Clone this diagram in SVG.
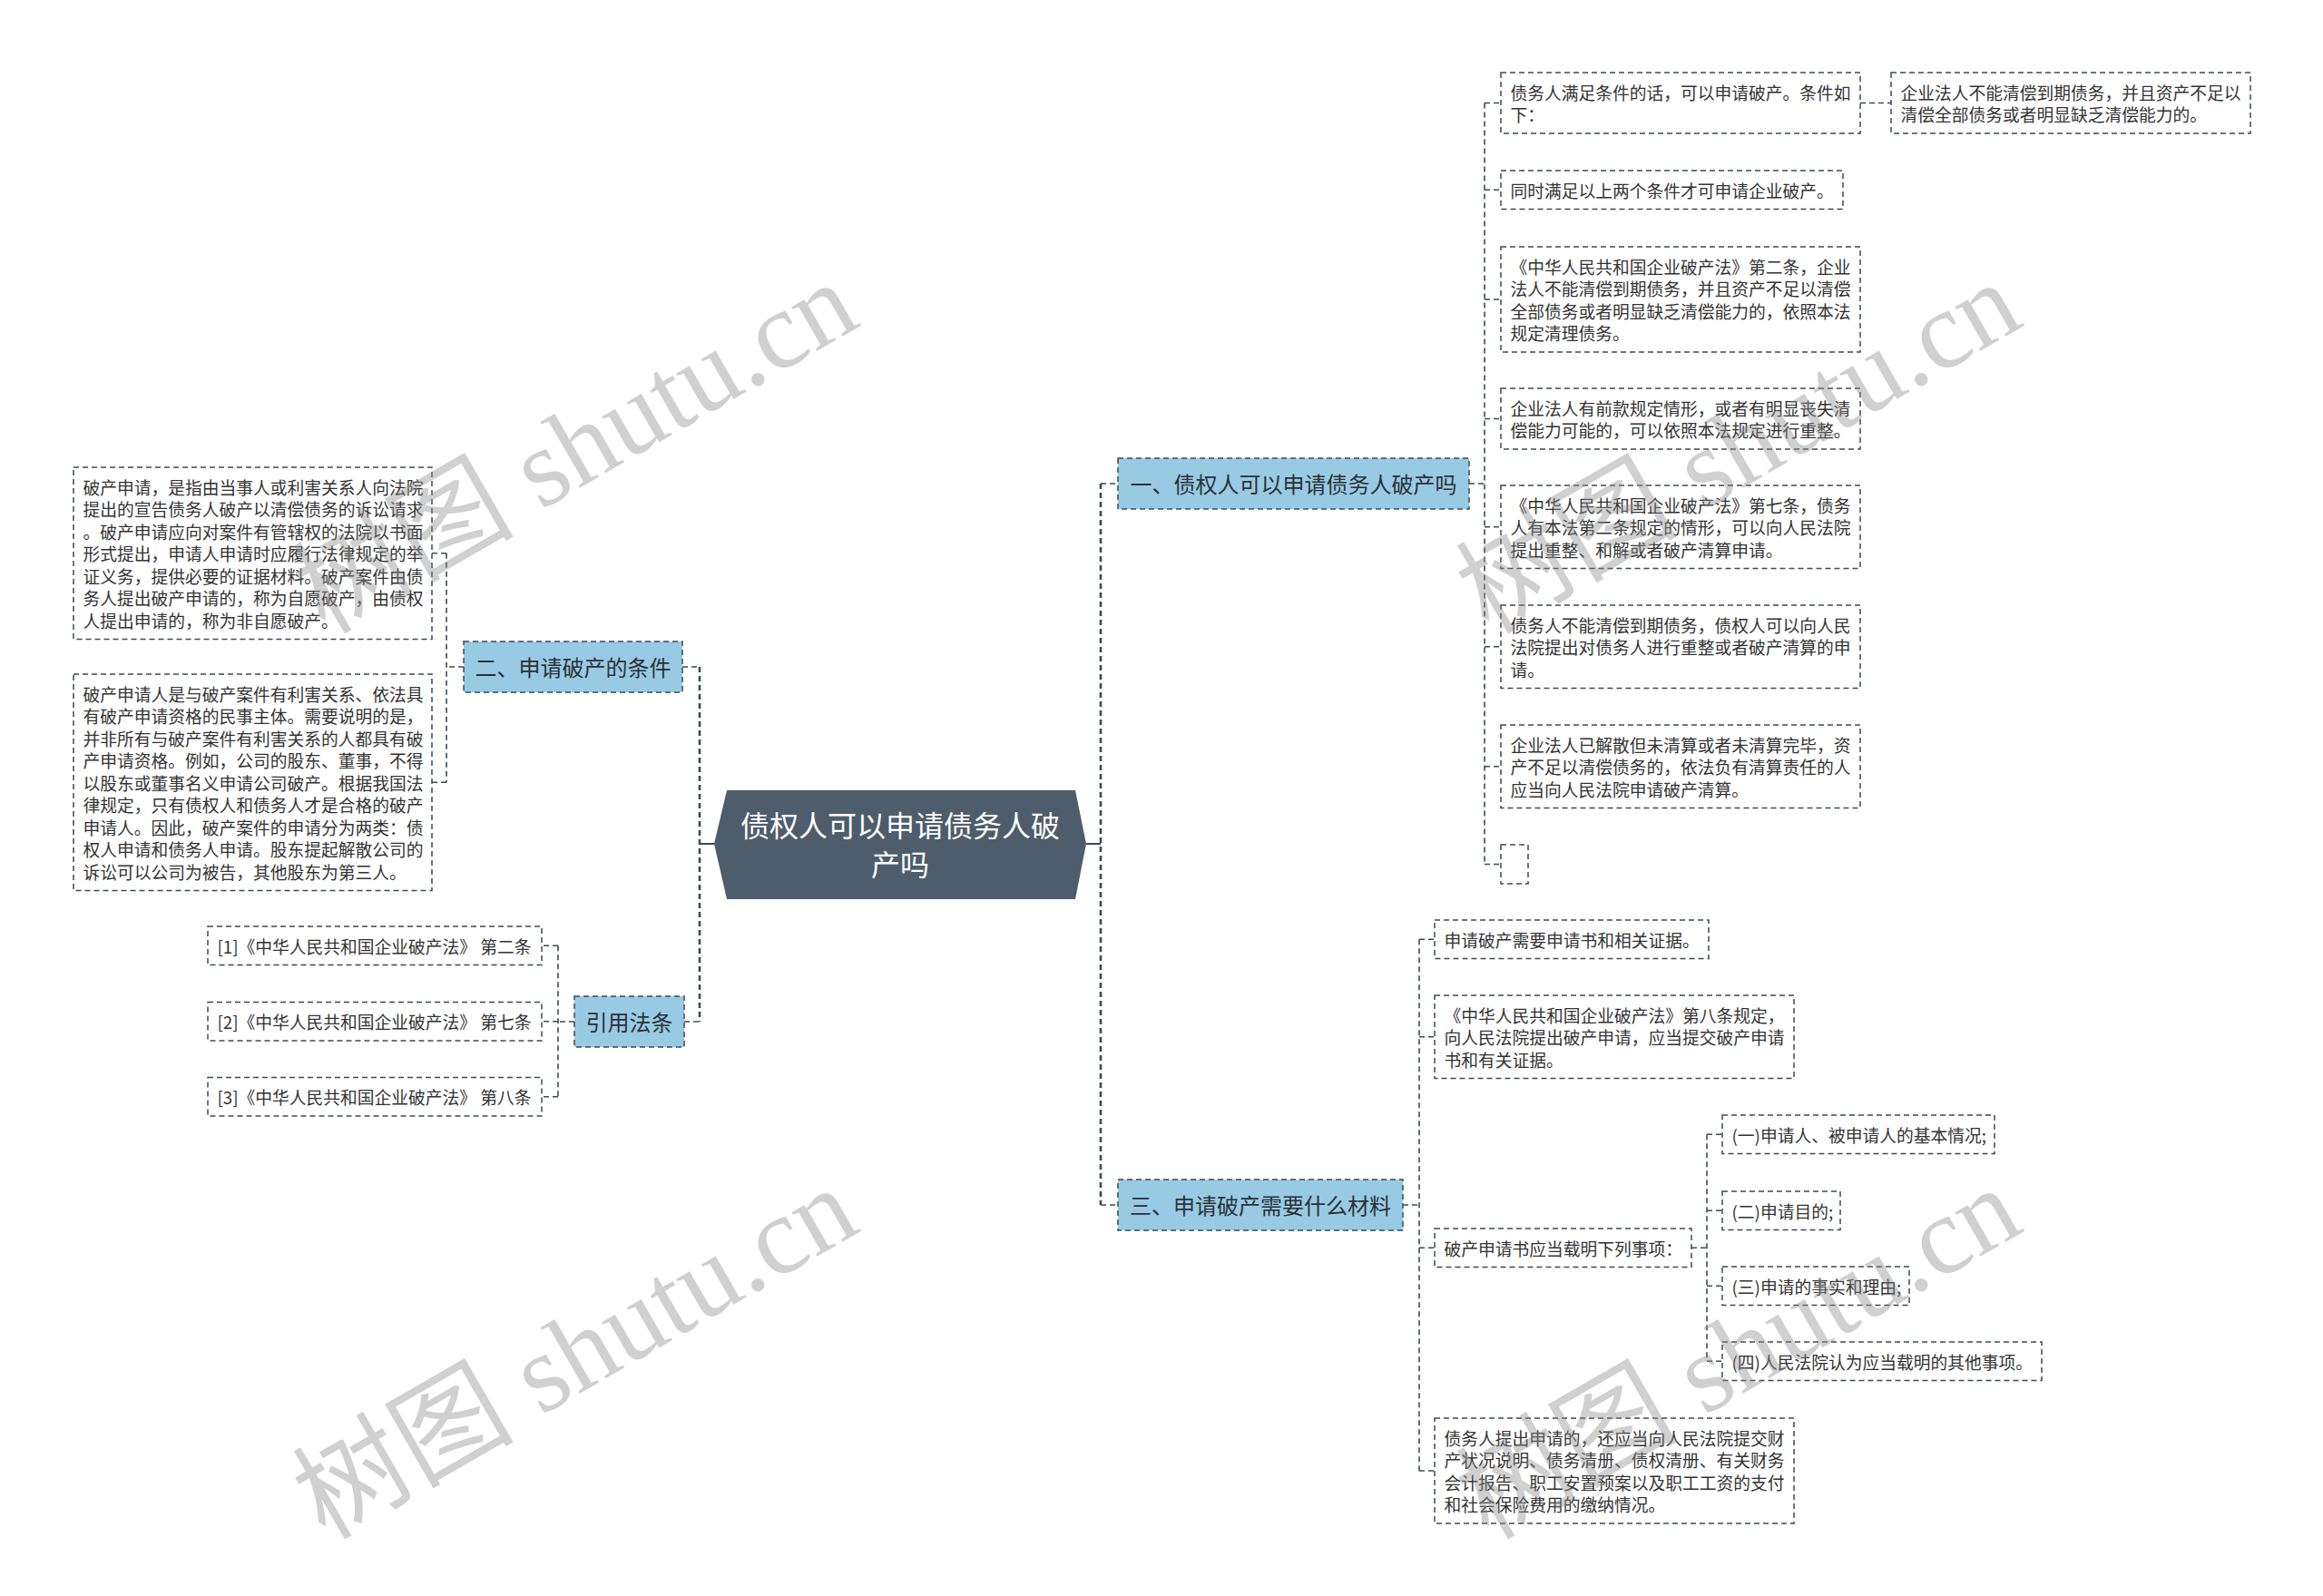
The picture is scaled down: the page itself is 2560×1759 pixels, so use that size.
<svg xmlns="http://www.w3.org/2000/svg" width="2560" height="1759" viewBox="0 0 2560 1759">
<style>
.bg{fill:#ffffff}
.box{fill:#ffffff;stroke:#3e4a55;stroke-width:1.5;stroke-dasharray:6 4}
.br{fill:#98cbe3;stroke:#3e4a55;stroke-width:1.5;stroke-dasharray:6 4}
.t{font-family:"Noto Sans CJK SC","Noto Sans",sans-serif;font-size:18.75px;fill:#333333;dominant-baseline:central}
.bt{font-family:"Noto Sans CJK SC","Noto Sans",sans-serif;font-size:24px;fill:#2b3038;dominant-baseline:central;text-anchor:middle}
.ct{font-family:"Noto Sans CJK SC","Noto Sans",sans-serif;font-size:32px;fill:#ffffff;dominant-baseline:central;text-anchor:middle}
.con{fill:none;stroke:#3e4a55;stroke-width:1.6;stroke-dasharray:6 4}
.main{fill:none;stroke:#3e4a55;stroke-width:2.6;stroke-dasharray:6 4}
.solid{fill:none;stroke:#3e4a55;stroke-width:2}
.wm{font-family:"Liberation Serif","Noto Sans CJK SC",serif;font-size:122px;fill:#8c8c8c;opacity:0.4}
</style>
<rect class="bg" x="0" y="0" width="2560" height="1759"/>

<g id="connectors">
  <path class="solid" d="M771,930H787M1197,930H1213"/>
  <path class="main" d="M771,735V1126M1213,533V1328"/>
  <path class="con" d="M752,735H771M754,1126H771M1213,533H1232M1213,1328H1232"/>
  <path class="con" d="M1619,533H1636M1636,113.5V952.5M1636,113.5H1654M1636,209.25H1654M1636,330H1654M1636,461.5H1654M1636,580.75H1654M1636,712.75H1654M1636,844.75H1654M1636,952.5H1654"/>
  <path class="con" d="M2050,113.5H2084"/>
  <path class="con" d="M511,735H492M492,609.75V862.25M492,609.75H476M492,862.25H476"/>
  <path class="con" d="M633,1126H615M615,1042.25V1208.75M615,1042.25H597M615,1125.75H597M615,1208.75H597"/>
  <path class="con" d="M1546,1328H1564M1564,1035.25V1621M1564,1035.25H1581M1564,1142.75H1581M1564,1375.25H1581M1564,1621H1581"/>
  <path class="con" d="M1864,1375.25H1881M1881,1250.25V1500.25M1881,1250.25H1898M1881,1334.25H1898M1881,1417.25H1898M1881,1500.25H1898"/>
</g>

<g id="root">
  <polygon points="787,930 801,871 1185,871 1197,930 1185,991 801,991" fill="#4d5d6c"/>
  <text class="ct" x="992" y="908">债权人可以申请债务人破</text>
  <text class="ct" x="992" y="951">产吗</text>
</g>

<g id="branch1">
  <rect class="br" x="1232" y="505" width="387" height="56"/>
  <text class="bt" x="1425.5" y="532">一、债权人可以申请债务人破产吗</text>
</g>
<g id="branch2">
  <rect class="br" x="511" y="707" width="241" height="56"/>
  <text class="bt" x="631.5" y="734">二、申请破产的条件</text>
</g>
<g id="branch-ref">
  <rect class="br" x="633" y="1098" width="121" height="56"/>
  <text class="bt" x="693.5" y="1125">引用法条</text>
</g>
<g id="branch3">
  <rect class="br" x="1232" y="1300" width="314" height="56"/>
  <text class="bt" x="1389" y="1327">三、申请破产需要什么材料</text>
</g>

<g id="n1-1">
  <rect class="box" x="1654" y="80" width="396" height="67"/>
  <text class="t" x="1664.5" y="101.25">债务人满足条件的话，可以申请破产。条件如</text>
  <text class="t" x="1664.5" y="125.75">下：</text>
</g>
<g id="n1-1-1">
  <rect class="box" x="2084" y="80" width="396" height="67"/>
  <text class="t" x="2094.5" y="101.25">企业法人不能清偿到期债务，并且资产不足以</text>
  <text class="t" x="2094.5" y="125.75">清偿全部债务或者明显缺乏清偿能力的。</text>
</g>
<g id="n1-2">
  <rect class="box" x="1654" y="188" width="377" height="42.5"/>
  <text class="t" x="1664.5" y="209.25">同时满足以上两个条件才可申请企业破产。</text>
</g>
<g id="n1-3">
  <rect class="box" x="1654" y="272" width="396" height="116"/>
  <text class="t" x="1664.5" y="293.25">《中华人民共和国企业破产法》第二条，企业</text>
  <text class="t" x="1664.5" y="317.75">法人不能清偿到期债务，并且资产不足以清偿</text>
  <text class="t" x="1664.5" y="342.25">全部债务或者明显缺乏清偿能力的，依照本法</text>
  <text class="t" x="1664.5" y="366.75">规定清理债务。</text>
</g>
<g id="n1-4">
  <rect class="box" x="1654" y="428" width="396" height="67"/>
  <text class="t" x="1664.5" y="449.25">企业法人有前款规定情形，或者有明显丧失清</text>
  <text class="t" x="1664.5" y="473.75">偿能力可能的，可以依照本法规定进行重整。</text>
</g>
<g id="n1-5">
  <rect class="box" x="1654" y="535" width="396" height="91.5"/>
  <text class="t" x="1664.5" y="556.25">《中华人民共和国企业破产法》第七条，债务</text>
  <text class="t" x="1664.5" y="580.75">人有本法第二条规定的情形，可以向人民法院</text>
  <text class="t" x="1664.5" y="605.25">提出重整、和解或者破产清算申请。</text>
</g>
<g id="n1-6">
  <rect class="box" x="1654" y="667" width="396" height="91.5"/>
  <text class="t" x="1664.5" y="688.25">债务人不能清偿到期债务，债权人可以向人民</text>
  <text class="t" x="1664.5" y="712.75">法院提出对债务人进行重整或者破产清算的申</text>
  <text class="t" x="1664.5" y="737.25">请。</text>
</g>
<g id="n1-7">
  <rect class="box" x="1654" y="799" width="396" height="91.5"/>
  <text class="t" x="1664.5" y="820.25">企业法人已解散但未清算或者未清算完毕，资</text>
  <text class="t" x="1664.5" y="844.75">产不足以清偿债务的，依法负有清算责任的人</text>
  <text class="t" x="1664.5" y="869.25">应当向人民法院申请破产清算。</text>
</g>
<g id="n1-8">
  <rect class="box" x="1654" y="931" width="30" height="43"/>
</g>

<g id="n2-1">
  <rect class="box" x="81" y="515" width="395" height="189.5"/>
  <text class="t" x="91.5" y="536.25">破产申请，是指由当事人或利害关系人向法院</text>
  <text class="t" x="91.5" y="560.75">提出的宣告债务人破产以清偿债务的诉讼请求</text>
  <text class="t" x="91.5" y="585.25">。破产申请应向对案件有管辖权的法院以书面</text>
  <text class="t" x="91.5" y="609.75">形式提出，申请人申请时应履行法律规定的举</text>
  <text class="t" x="91.5" y="634.25">证义务，提供必要的证据材料。破产案件由债</text>
  <text class="t" x="91.5" y="658.75">务人提出破产申请的，称为自愿破产，由债权</text>
  <text class="t" x="91.5" y="683.25">人提出申请的，称为非自愿破产。</text>
</g>
<g id="n2-2">
  <rect class="box" x="81" y="743" width="395" height="238.5"/>
  <text class="t" x="91.5" y="764.25">破产申请人是与破产案件有利害关系、依法具</text>
  <text class="t" x="91.5" y="788.75">有破产申请资格的民事主体。需要说明的是，</text>
  <text class="t" x="91.5" y="813.25">并非所有与破产案件有利害关系的人都具有破</text>
  <text class="t" x="91.5" y="837.75">产申请资格。例如，公司的股东、董事，不得</text>
  <text class="t" x="91.5" y="862.25">以股东或董事名义申请公司破产。根据我国法</text>
  <text class="t" x="91.5" y="886.75">律规定，只有债权人和债务人才是合格的破产</text>
  <text class="t" x="91.5" y="911.25">申请人。因此，破产案件的申请分为两类：债</text>
  <text class="t" x="91.5" y="935.75">权人申请和债务人申请。股东提起解散公司的</text>
  <text class="t" x="91.5" y="960.25">诉讼可以公司为被告，其他股东为第三人。</text>
</g>

<g id="ref-1">
  <rect class="box" x="229" y="1021" width="368" height="42.5"/>
  <text class="t" x="239.5" y="1042.25">[1]《中华人民共和国企业破产法》 第二条</text>
</g>
<g id="ref-2">
  <rect class="box" x="229" y="1104.5" width="368" height="42.5"/>
  <text class="t" x="239.5" y="1125.75">[2]《中华人民共和国企业破产法》 第七条</text>
</g>
<g id="ref-3">
  <rect class="box" x="229" y="1187.5" width="368" height="42.5"/>
  <text class="t" x="239.5" y="1208.75">[3]《中华人民共和国企业破产法》 第八条</text>
</g>

<g id="n3-1">
  <rect class="box" x="1581" y="1014" width="302" height="42.5"/>
  <text class="t" x="1591.5" y="1035.25">申请破产需要申请书和相关证据。</text>
</g>
<g id="n3-2">
  <rect class="box" x="1581" y="1097" width="396" height="91.5"/>
  <text class="t" x="1591.5" y="1118.25">《中华人民共和国企业破产法》第八条规定，</text>
  <text class="t" x="1591.5" y="1142.75">向人民法院提出破产申请，应当提交破产申请</text>
  <text class="t" x="1591.5" y="1167.25">书和有关证据。</text>
</g>
<g id="n3-3">
  <rect class="box" x="1581" y="1354" width="283" height="42.5"/>
  <text class="t" x="1591.5" y="1375.25">破产申请书应当载明下列事项：</text>
</g>
<g id="n3-3-1">
  <rect class="box" x="1898" y="1229" width="300" height="42.5"/>
  <text class="t" x="1908.5" y="1250.25">(一)申请人、被申请人的基本情况;</text>
</g>
<g id="n3-3-2">
  <rect class="box" x="1898" y="1313" width="130" height="42.5"/>
  <text class="t" x="1908.5" y="1334.25">(二)申请目的;</text>
</g>
<g id="n3-3-3">
  <rect class="box" x="1898" y="1396" width="206" height="42.5"/>
  <text class="t" x="1908.5" y="1417.25">(三)申请的事实和理由;</text>
</g>
<g id="n3-3-4">
  <rect class="box" x="1898" y="1479" width="352" height="42.5"/>
  <text class="t" x="1908.5" y="1500.25">(四)人民法院认为应当载明的其他事项。</text>
</g>
<g id="n3-4">
  <rect class="box" x="1581" y="1563" width="396" height="116"/>
  <text class="t" x="1591.5" y="1584.25">债务人提出申请的，还应当向人民法院提交财</text>
  <text class="t" x="1591.5" y="1608.75">产状况说明、债务清册、债权清册、有关财务</text>
  <text class="t" x="1591.5" y="1633.25">会计报告、职工安置预案以及职工工资的支付</text>
  <text class="t" x="1591.5" y="1657.75">和社会保险费用的缴纳情况。</text>
</g>

<g id="watermark">
  <text class="wm" transform="translate(358,700) rotate(-30)">树图 shutu.cn</text>
  <text class="wm" transform="translate(1640,700) rotate(-30)">树图 shutu.cn</text>
  <text class="wm" transform="translate(358,1698) rotate(-30)">树图 shutu.cn</text>
  <text class="wm" transform="translate(1640,1698) rotate(-30)">树图 shutu.cn</text>
</g>
</svg>
